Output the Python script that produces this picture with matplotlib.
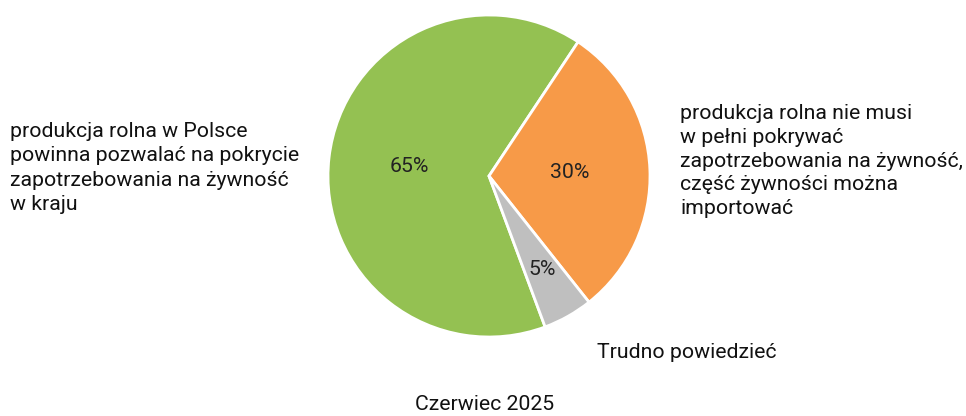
import numpy as np
import matplotlib.pyplot as plt

plt.rcParams['font.family'] = ['Roboto', 'DejaVu Sans']

# dane
labels = [
    'produkcja rolna w Polsce\npowinna pozwalać na pokrycie\nzapotrzebowania na żywność\nw kraju',
    'produkcja rolna nie musi\nw pełni pokrywać\nzapotrzebowania na żywność,\nczęść żywności można\nimportować',
    'Trudno powiedzieć',
]
values = [65, 30, 5]
colors = ['#94C152', '#F79A48', '#BFBFBF']
title = 'Czerwiec 2025'

W, H = 966, 416
fig = plt.figure(figsize=(W / 100, H / 100), dpi=100)

# os kolowa: srodek (489,176), promien 161 px
cx, cy, r = 489, 176, 161
ax = fig.add_axes([(cx - r) / W, (H - cy - r) / H, 2 * r / W, 2 * r / H])

wedges, texts, pcts = ax.pie(
    values, colors=colors, startangle=290.4, counterclock=False,
    autopct='%d%%', pctdistance=0.5,
    wedgeprops=dict(edgecolor='white', linewidth=2),
    textprops=dict(fontsize=15.3, color='#222222'),
)
ax.set_xlim(-1, 1)
ax.set_ylim(-1, 1)
ax.set_aspect('equal')

# maly wycinek - etykieta dalej od srodka
w = wedges[2]
mid = np.deg2rad((w.theta1 + w.theta2) / 2)
pcts[2].set_position((0.67 * np.cos(mid), 0.67 * np.sin(mid)))

fs = 15.3
fig.text(10 / W, 1 - 168 / H, labels[0], ha='left', va='center',
         fontsize=fs, linespacing=1.35, color='#111111')
fig.text(680 / W, 1 - 161 / H, labels[1], ha='left', va='center',
         fontsize=fs, linespacing=1.31, color='#111111')
fig.text(597 / W, 1 - 352 / H, labels[2], ha='left', va='center',
         fontsize=fs, color='#111111')
fig.text(485 / W, 1 - 405 / H, title, ha='center', va='center',
         fontsize=fs, color='#111111')

fig.savefig('out.png', dpi=100)
